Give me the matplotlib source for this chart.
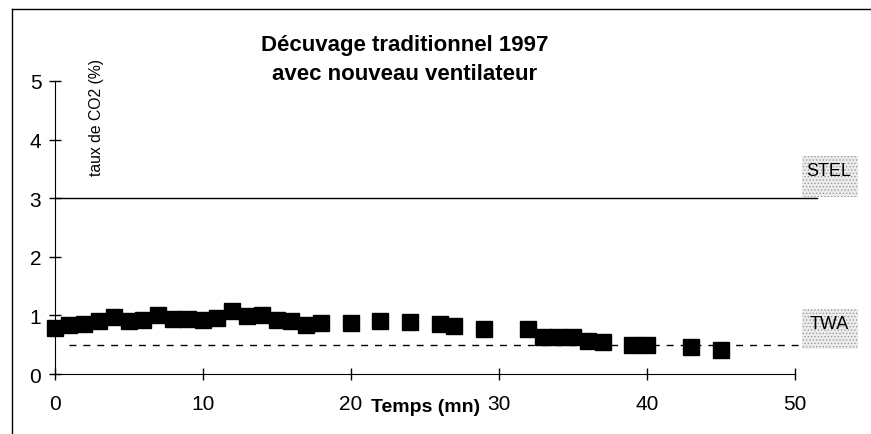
import matplotlib.pyplot as plt
from matplotlib.lines import Line2D
from matplotlib.patches import Rectangle

plt.rcParams['font.family'] = ['Liberation Sans', 'DejaVu Sans']
plt.rcParams['hatch.linewidth'] = 0.6

# temps (mn) et taux de CO2 (%)
temps = [0, 1, 2, 3, 4, 5, 6, 7, 8, 9, 10, 11, 12, 13, 14, 15, 16, 17, 18,
         20, 22, 24, 26, 27, 29, 32, 33, 34, 35, 36, 37, 39, 40, 43, 45]
co2 = [0.78, 0.84, 0.86, 0.90, 0.97, 0.90, 0.92, 1.00, 0.94, 0.94, 0.93, 0.95,
       1.08, 0.99, 1.00, 0.92, 0.90, 0.83, 0.87, 0.87, 0.91, 0.88, 0.85, 0.82,
       0.76, 0.76, 0.63, 0.64, 0.63, 0.57, 0.54, 0.50, 0.49, 0.46, 0.41]
stel = 3
twa = 0.5
xticks = [0, 10, 20, 30, 40, 50]
yticks = [0, 1, 2, 3, 4, 5]

W, H = 871, 435
fig = plt.figure(figsize=(W / 100, H / 100), dpi=100)
ax = fig.add_axes([0.0626, 0.1379, 0.8502, 0.6736])

# limites STEL / TWA
ax.plot([0, 51.5], [stel, stel], color='black', lw=1.0, clip_on=False)
ax.plot([1, 51.5], [twa, twa], color='black', lw=1.0, ls=(0, (5, 5)), clip_on=False)

ax.plot(temps, co2, 's', color='black', markersize=11.5, clip_on=False, zorder=3)

ax.set_xlim(0, 50)
ax.set_ylim(0, 5)
ax.set_xticks(xticks)
ax.set_yticks(yticks)
ax.tick_params(direction='inout', length=9, width=1, labelsize=15)
ax.tick_params(axis='x', pad=10)
ax.tick_params(axis='y', pad=5)
for s in ['top', 'right']:
    ax.spines[s].set_visible(False)

fig.text(405 / W, 1 - 45 / H, 'Décuvage traditionnel 1997',
         ha='center', va='center', fontsize=16, fontweight='bold')
fig.text(405 / W, 1 - 75 / H, 'avec nouveau ventilateur',
         ha='center', va='center', fontsize=16, fontweight='bold')

fig.text(96 / W, 1 - 118 / H, 'taux de CO2 (%)', rotation=90,
         ha='center', va='center', fontsize=11.3)
fig.text(426 / W, 1 - 408 / H, 'Temps (mn)', ha='center', va='center',
         fontsize=14, fontweight='bold')

# étiquettes STEL / TWA sur fond tramé
for label, y0, y1, ty in [('STEL', 157, 198, 172), ('TWA', 310, 350, 325)]:
    fig.add_artist(Rectangle((802 / W, 1 - y1 / H), 56 / W, (y1 - y0) / H,
                             transform=fig.transFigure, facecolor='#ececec',
                             edgecolor='#9a9a9a', lw=0, hatch='.....'))
    fig.text(829 / W, 1 - ty / H, label, ha='center', va='center', fontsize=13)

# cadre
fig.add_artist(Line2D([12 / W, 1], [1 - 10 / H, 1 - 10 / H],
                      transform=fig.transFigure, color='black', lw=1))
fig.add_artist(Line2D([12 / W, 12 / W], [0, 1 - 10 / H],
                      transform=fig.transFigure, color='black', lw=1))

fig.savefig('out.png', dpi=100)
